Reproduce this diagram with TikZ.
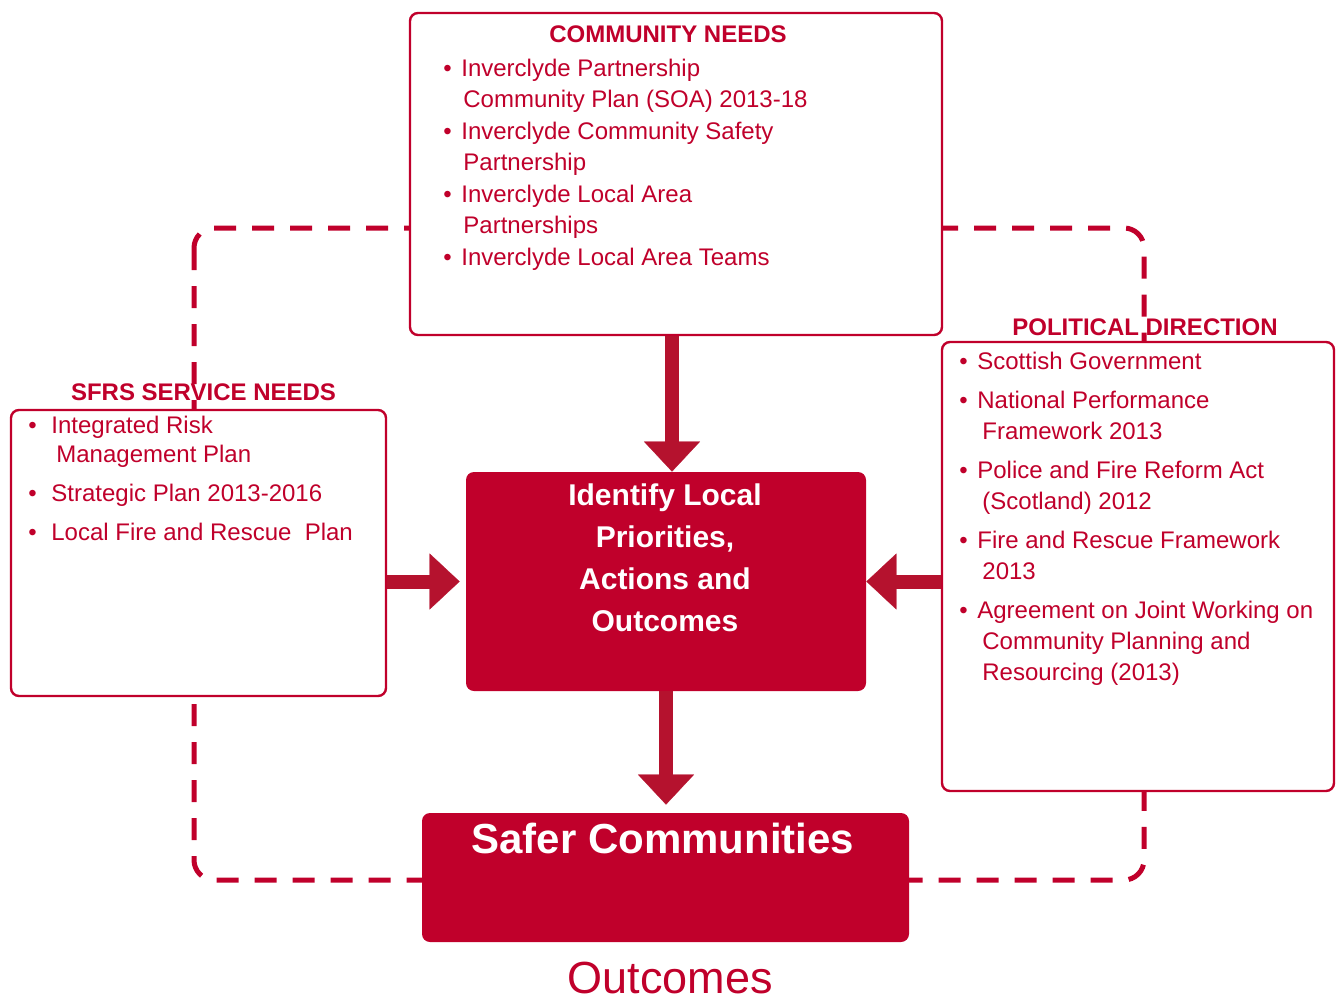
\documentclass[tikz,border=0pt]{standalone}
\usepackage{fontspec}
\setmainfont{Liberation Sans}
\usetikzlibrary{arrows.meta}

\definecolor{sfrsred}{RGB}{192,0,43}
\definecolor{arrowred}{RGB}{181,18,46}
\newcommand{\bul}[1]{\makebox[#1][l]{\textbullet}}

\begin{document}
\begin{tikzpicture}[x=0.5pt,y=-0.5pt,
  needbox/.style={draw=sfrsred, line width=1.2pt, fill=white, rounded corners=4pt, inner sep=0pt},
  redbox/.style={fill=sfrsred, rounded corners=4pt, inner sep=0pt},
  heading/.style={text=sfrsred, font=\bfseries\fontsize{12}{14}\selectfont, inner sep=0pt, anchor=base},
  itemtext/.style={text=sfrsred, align=left, inner sep=0pt, anchor=base west},
  blockarrow/.style={arrowred, line width=7pt, -{Triangle[width=28pt,length=15pt,line width=0.1pt]}},
  dashloop/.style={sfrsred, line width=2.5pt, dash pattern=on 11pt off 8pt, rounded corners=10pt}]

  \useasboundingbox (0,0) rectangle (1338,1001);

  % Dashed loop behind the boxes
  \draw[dashloop] (194,228) rectangle (1144,880);

  % Boxes
  \node[needbox, minimum width=266pt, minimum height=161pt] (comm) at (676,174) {};
  \node[needbox, minimum width=187.5pt, minimum height=143pt] (sfrs) at (198.5,553) {};
  \node[needbox, minimum width=196pt, minimum height=224.5pt] (polit) at (1138,566.5) {};
  \node[redbox, minimum width=200pt, minimum height=109.5pt] (ident) at (666,581.5) {};
  \node[redbox, minimum width=243.5pt, minimum height=64.5pt] (safer) at (665.5,877.5) {};

  % Headings
  \node[heading] (commhead) at (668,42) {COMMUNITY NEEDS};
  \node[heading] (sfrshead) at (203.5,400) {SFRS SERVICE NEEDS};
  \node[heading] (polithead) at (1145,335) {POLITICAL DIRECTION};

  % Bullet lists (placed at the baseline of their last line)
  \node[itemtext, font=\fontsize{12}{15.75}\selectfont] (commlist) at (443,265)
    {\bul{9pt}Inverclyde Partnership\\
     \hspace*{10pt}Community Plan (SOA) 2013-18\\
     \bul{9pt}Inverclyde Community Safety\\
     \hspace*{10pt}Partnership\\
     \bul{9pt}Inverclyde Local Area\\
     \hspace*{10pt}Partnerships\\
     \bul{9pt}Inverclyde Local Area Teams};
  \node[itemtext, font=\fontsize{12}{14.5}\selectfont] (sfrslist) at (28,540)
    {\bul{11.5pt}Integrated Risk\\
     \hspace*{14pt}Management Plan\\[5pt]
     \bul{11.5pt}Strategic Plan 2013-2016\\[5pt]
     \bul{11.5pt}Local Fire and Rescue\ \ Plan};
  \node[itemtext, font=\fontsize{12}{15.5}\selectfont] (politlist) at (959,680)
    {\bul{9pt}Scottish Government\\[4pt]
     \bul{9pt}National Performance\\
     \hspace*{11.5pt}Framework 2013\\[4pt]
     \bul{9pt}Police and Fire Reform Act\\
     \hspace*{11.5pt}(Scotland) 2012\\[4pt]
     \bul{9pt}Fire and Rescue Framework\\
     \hspace*{11.5pt}2013\\[4pt]
     \bul{9pt}Agreement on Joint Working on\\
     \hspace*{11.5pt}Community Planning and\\
     \hspace*{11.5pt}Resourcing (2013)};

  % Texts in the red boxes
  \node[text=white, font=\bfseries\fontsize{15}{21}\selectfont, align=center, anchor=base, inner sep=0pt]
    (identtext) at (665,631) {Identify Local\\Priorities,\\Actions and\\Outcomes};
  \node[text=white, font=\bfseries\fontsize{21}{25}\selectfont, anchor=base, inner sep=0pt]
    (safertext) at (663,853) {Safer Communities};
  \node[text=sfrsred, font=\fontsize{22.5}{27}\selectfont, anchor=base, inner sep=0pt]
    (outcomes) at (670,993) {Outcomes};

  % Block arrows
  \draw[blockarrow] ([xshift=-2pt]comm.south) -- ([xshift=-2pt]comm.south |- ident.north);
  \draw[blockarrow, shorten >=3pt] (sfrs.east |- ident.west) -- (ident.west);
  \draw[blockarrow] (polit.west |- ident.east) -- (ident.east);
  \draw[blockarrow, shorten >=4pt] (ident.south) -- (ident.south |- safer.north);

\end{tikzpicture}
\end{document}
